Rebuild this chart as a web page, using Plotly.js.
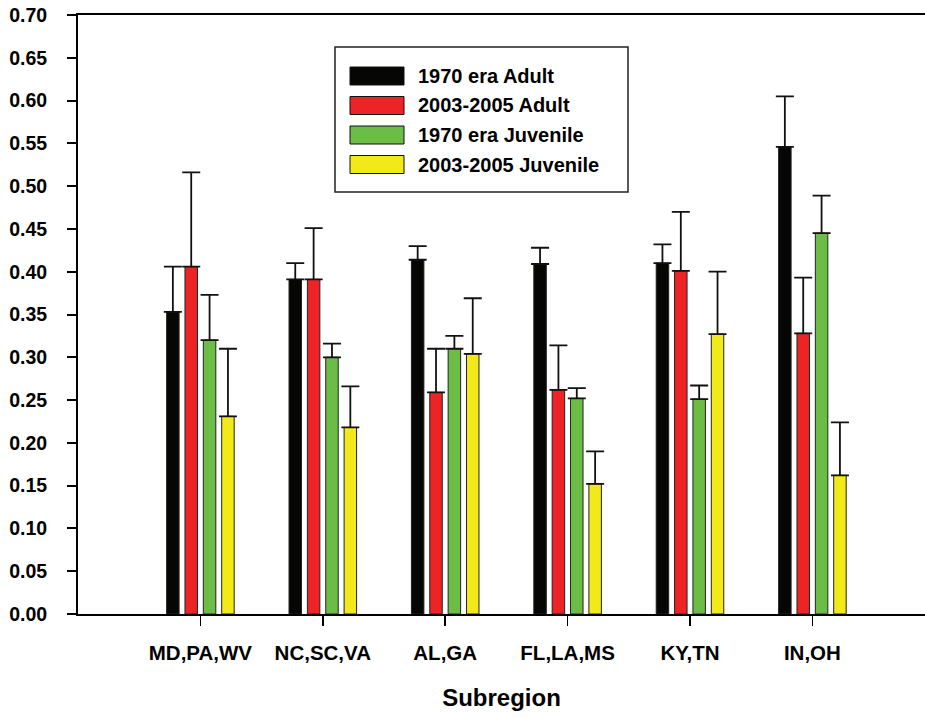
<!DOCTYPE html>
<html>
<head>
<meta charset="utf-8">
<script src="https://cdn.plot.ly/plotly-3.0.1.min.js"></script>
<style>html,body{margin:0;padding:0;background:#fff;}#chart{width:925px;height:717px;}</style>
</head>
<body>
<div id="chart"></div>
<script>
// ---- Data ----
const categories = ["MD,PA,WV", "NC,SC,VA", "AL,GA", "FL,LA,MS", "KY,TN", "IN,OH"];
const seriesNames = ["1970 era Adult", "2003-2005 Adult", "1970 era Juvenile", "2003-2005 Juvenile"];
const adult1970 = [0.353, 0.391, 0.414, 0.409, 0.410, 0.546];
const adult1970Err = [0.053, 0.019, 0.016, 0.019, 0.022, 0.059];
const adult2003 = [0.406, 0.391, 0.259, 0.262, 0.401, 0.328];
const adult2003Err = [0.110, 0.060, 0.051, 0.052, 0.069, 0.065];
const juv1970 = [0.320, 0.300, 0.310, 0.252, 0.251, 0.445];
const juv1970Err = [0.053, 0.016, 0.015, 0.012, 0.016, 0.044];
const juv2003 = [0.231, 0.218, 0.304, 0.152, 0.327, 0.162];
const juv2003Err = [0.079, 0.048, 0.065, 0.038, 0.073, 0.062];
const yTicks = [0, 0.05, 0.10, 0.15, 0.20, 0.25, 0.30, 0.35, 0.40, 0.45, 0.50, 0.55, 0.60, 0.65, 0.70];
const xTitle = "Subregion";

// ---- Styles ----
const colors = ["#060604", "#EE2326", "#6CBD45", "#F2EA18"];
const FONT = '"Liberation Sans", Arial, Helvetica, sans-serif';

const values = [adult1970, adult2003, juv1970, juv2003];
const errors = [adult1970Err, adult2003Err, juv1970Err, juv2003Err];

const traces = values.map((v, i) => ({
  type: "bar",
  name: seriesNames[i],
  x: categories,
  y: v,
  marker: {color: colors[i], line: {color: "#222", width: 1}},
  error_y: {type: "data", array: errors[i], symmetric: false, arrayminus: errors[i].map(() => 0),
            color: "#111", thickness: 1.8, width: 9},
  showlegend: false,
  hoverinfo: "x+y"
}));

// Custom legend (wide swatches) built from series names/colors
const W = 925, H = 717, L = 78, R = 0, T = 15, B = 103;
const pw = W - L - R, ph = H - T - B;
const px = x => (x - L) / pw;
const py = y => (H - B - y) / ph;

const shapes = [{
  type: "rect", xref: "paper", yref: "paper",
  x0: px(335), x1: px(628), y0: py(192), y1: py(47),
  line: {color: "#222", width: 1.5}, fillcolor: "rgba(0,0,0,0)"
}];
const annotations = [];
seriesNames.forEach((name, i) => {
  const cy = 76 + i * 29.5;
  shapes.push({
    type: "rect", xref: "paper", yref: "paper",
    x0: px(350), x1: px(404), y0: py(cy + 9), y1: py(cy - 9),
    fillcolor: colors[i], line: {color: "#111", width: 1}
  });
  annotations.push({
    xref: "paper", yref: "paper", x: px(416), y: py(cy),
    xanchor: "left", yanchor: "middle", showarrow: false,
    text: "<b>" + name + "</b>",
    font: {family: FONT, size: 20, color: "#000"}
  });
});

const layout = {
  width: W, height: H,
  margin: {l: L, r: R, t: T, b: B, pad: 0},
  paper_bgcolor: "#fff", plot_bgcolor: "#fff",
  barmode: "group", bargap: 0.4, bargroupgap: 0.32,
  font: {family: FONT, color: "#000"},
  xaxis: {
    type: "category",
    range: [-1, 5.92],
    showline: true, linecolor: "#000", linewidth: 2, mirror: true,
    ticks: "outside", ticklen: 10, tickwidth: 1.5, tickcolor: "#000",
    tickfont: {family: FONT, size: 20.5, color: "#000", weight: "bold"},
    ticklabelstandoff: 9,
    showgrid: false, zeroline: false,
    title: {text: "<b>" + xTitle + "</b>", font: {family: FONT, size: 24, color: "#000"}, standoff: 27}
  },
  yaxis: {
    range: [0, 0.70],
    tickvals: yTicks,
    ticktext: yTicks.map(v => v.toFixed(2)),
    showline: true, linecolor: "#000", linewidth: 2,
    ticks: "outside", ticklen: 9, tickwidth: 2, tickcolor: "#000",
    tickfont: {family: FONT, size: 19.5, color: "#000", weight: "bold"},
    ticklabelstandoff: 16,
    showgrid: false, zeroline: false
  },
  shapes: shapes,
  annotations: annotations,
  showlegend: false
};

Plotly.newPlot("chart", traces, layout, {displayModeBar: false, staticPlot: true});
</script>
</body>
</html>
